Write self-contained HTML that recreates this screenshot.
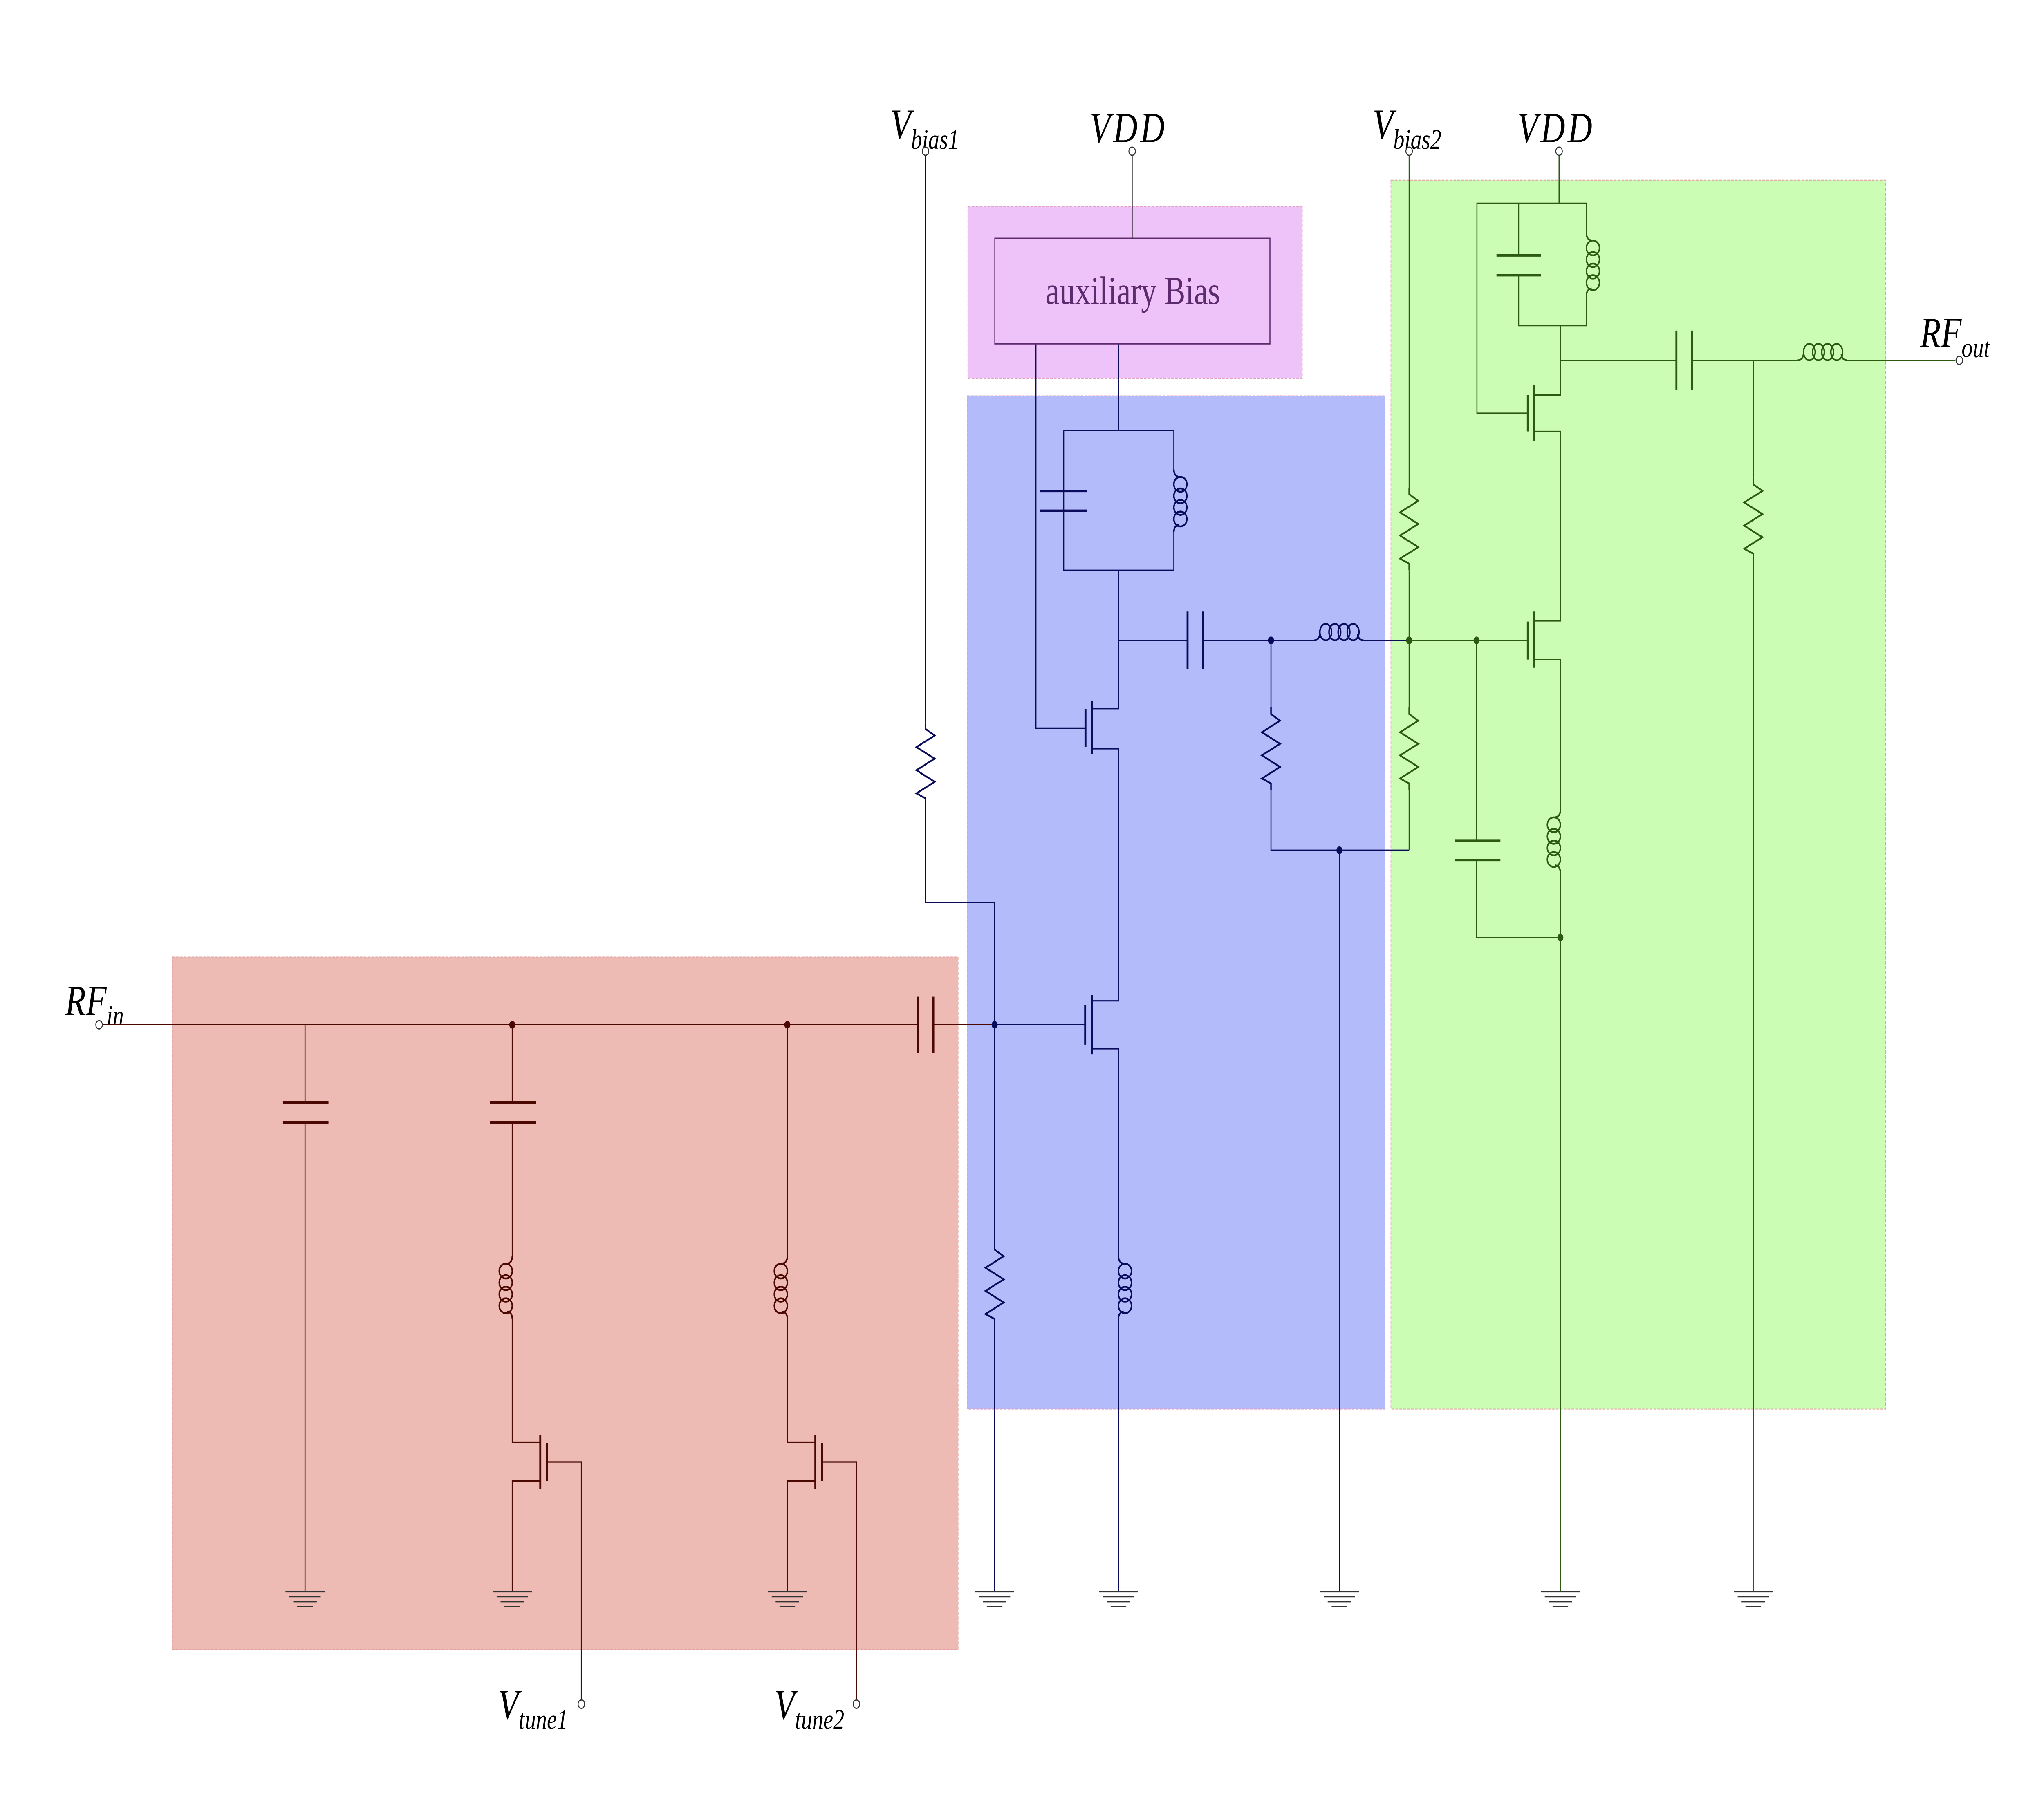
<!DOCTYPE html>
<html><head><meta charset="utf-8"><style>html,body{margin:0;padding:0;background:#fff;width:100%;height:100%;overflow:hidden}svg{display:block;position:absolute;left:0;top:0;width:100vw;height:100vh}</style></head><body>
<svg viewBox="0 0 1568 1089" preserveAspectRatio="none" xmlns="http://www.w3.org/2000/svg">
<defs>
<g id="L" fill="none"><path d="M0,0 Q0,4 4,4.5 M4,33.5 Q0,34 0,38"/><ellipse cx="5" cy="9" rx="5" ry="4.5"/><ellipse cx="5" cy="16" rx="5" ry="4.5"/><ellipse cx="5" cy="23" rx="5" ry="4.5"/><ellipse cx="5" cy="30" rx="5" ry="4.5"/></g>
<path id="R" fill="none" d="M0,0 L0,4 L7,8 L-7,15 L7,22 L-7,29 L7,36 L-7,43 L0,46 L0,50"/>
<g id="G" stroke="#333" stroke-width="0.8"><line x1="-15" y1="0" x2="15" y2="0"/><line x1="-12" y1="3" x2="12" y2="3"/><line x1="-9" y1="6" x2="9" y2="6"/><line x1="-6" y1="9" x2="6" y2="9"/></g>
</defs>
<rect x="132" y="579" width="603" height="419" fill="#edbbb3" stroke="#e0a0a0" stroke-width="0.5" stroke-dasharray="2,1"/>
<rect x="742" y="239.5" width="320.5" height="613" fill="#b3bbfb" stroke="#e0a0c0" stroke-width="0.5" stroke-dasharray="2,1"/>
<rect x="742.5" y="125" width="256.5" height="104" fill="#eec3f9" stroke="#e0a0c0" stroke-width="0.5" stroke-dasharray="2,1"/>
<rect x="1067" y="109" width="379.5" height="743.5" fill="#ccfdb4" stroke="#e0a0a0" stroke-width="0.5" stroke-dasharray="2,1"/>

<g font-family="Liberation Serif, serif" font-style="italic" fill="#000">
<text x="50" y="614" font-size="26">RF<tspan font-size="17" dy="6">in</tspan></text>
<text x="683" y="84" font-size="26">V<tspan font-size="17" dy="6">bias1</tspan></text>
<text x="836" y="86" font-size="26" letter-spacing="2">VDD</text>
<text x="1053" y="84" font-size="26">V<tspan font-size="17" dy="6">bias2</tspan></text>
<text x="1164" y="86" font-size="26" letter-spacing="2">VDD</text>
<text x="1473" y="210" font-size="26">RF<tspan font-size="17" dy="6">out</tspan></text>
<text x="382" y="1040" font-size="26">V<tspan font-size="17" dy="6">tune1</tspan></text>
<text x="594" y="1040" font-size="26">V<tspan font-size="17" dy="6">tune2</tspan></text>
</g>

<g stroke="#4a0800" stroke-width="0.8" fill="none">
<path d="M79,620 H704 M716,620 H763"/>
<line x1="704" y1="603" x2="704" y2="637" stroke-width="1.5"/><line x1="716" y1="603" x2="716" y2="637" stroke-width="1.5"/>
<path d="M234,620 V667 M234,679 V963"/>
<line x1="217" y1="667" x2="252" y2="667" stroke-width="1.5"/><line x1="217" y1="679" x2="252" y2="679" stroke-width="1.5"/>
<path d="M393,620 V667 M393,679 V760 M393,798 V872.5 H414 M414,896 H393 V963"/>
<line x1="376" y1="667" x2="411" y2="667" stroke-width="1.5"/><line x1="376" y1="679" x2="411" y2="679" stroke-width="1.5"/>
<g transform="translate(393,760) scale(-1,1)"><use href="#L" stroke-width="1.1"/></g>
<line x1="414.5" y1="868" x2="414.5" y2="901" stroke-width="1.5"/><line x1="419.5" y1="873" x2="419.5" y2="896" stroke-width="1.5"/>
<path d="M419,884.5 H446 V1028"/>
<path d="M604,620 V760 M604,798 V872.5 H625 M625,896 H604 V963"/>
<g transform="translate(604,760) scale(-1,1)"><use href="#L" stroke-width="1.1"/></g>
<line x1="625.5" y1="868" x2="625.5" y2="901" stroke-width="1.5"/><line x1="630.5" y1="873" x2="630.5" y2="896" stroke-width="1.5"/>
<path d="M630,884.5 H657 V1028"/>
</g>
<g fill="#4a0800"><circle cx="393" cy="620" r="2.3"/><circle cx="604" cy="620" r="2.3"/></g>
<use href="#G" x="234" y="963"/><use href="#G" x="393" y="963"/><use href="#G" x="604" y="963"/>

<g stroke="#0b0b5c" stroke-width="0.8" fill="none">
<path d="M710,94 V437 M710,487 V546 H763 V752 M763,802 V963"/>
<use href="#R" x="710" y="437" stroke-width="1.1"/>
<use href="#R" x="763" y="752" stroke-width="1.1"/>
<path d="M763,620 H832"/>
<line x1="832.5" y1="608" x2="832.5" y2="632" stroke-width="1.5"/><line x1="837.5" y1="602" x2="837.5" y2="638" stroke-width="1.5"/>
<path d="M837,605.5 H858 V453 H837 M837,428.7 H858 V345 M837,634.5 H858 V760 M858,798 V963"/>
<use href="#L" x="858" y="760" stroke-width="1.1"/>
<line x1="832.7" y1="429" x2="832.7" y2="452" stroke-width="1.5"/><line x1="837.6" y1="424" x2="837.6" y2="456" stroke-width="1.5"/>
<path d="M832,440.5 H794.7 V208 M858,208 V260.4 M816,260.4 H900.5 V284 M900.5,322 V345 H816 V260.4"/>
<line x1="798" y1="297" x2="834" y2="297" stroke-width="1.5"/><line x1="798" y1="309" x2="834" y2="309" stroke-width="1.5"/>
<use href="#L" x="900.5" y="284" stroke-width="1.1"/>
<path d="M858,387.4 H911 M923,387.4 H1008 M1046,387.4 H1081"/>
<line x1="911" y1="370" x2="911" y2="405" stroke-width="1.5"/><line x1="923" y1="370" x2="923" y2="405" stroke-width="1.5"/>
<g transform="translate(1008,387.4) rotate(-90)"><use href="#L" stroke-width="1.1"/></g>
<path d="M975,387.4 V428 M975,478 V514.4 H1081 M1027.5,514.4 V963"/>
<use href="#R" x="975" y="428" stroke-width="1.1"/>
</g>
<g fill="#0b0b5c"><circle cx="763" cy="620" r="2.3"/><circle cx="975" cy="387.4" r="2.3"/><circle cx="1027.5" cy="514.4" r="2.3"/></g>
<use href="#G" x="763" y="963"/><use href="#G" x="858" y="963"/><use href="#G" x="1027.5" y="963"/>

<rect x="763.2" y="144.2" width="211" height="63.8" fill="none" stroke="#5e2a6e" stroke-width="0.8"/>
<line x1="868.5" y1="94" x2="868.5" y2="144.2" stroke="#333" stroke-width="0.8"/>
<text x="869" y="184" font-family="Liberation Serif, serif" font-size="24" fill="#5e2a6e" text-anchor="middle">auxiliary Bias</text>

<g stroke="#2c5a10" stroke-width="0.8" fill="none">
<path d="M1081,94 V295 M1081,345 V428 M1081,478 V514.4"/>
<use href="#R" x="1081" y="295" stroke-width="1.1"/>
<use href="#R" x="1081" y="428" stroke-width="1.1"/>
<path d="M1081,387.4 H1172"/>
<line x1="1172" y1="376" x2="1172" y2="399" stroke-width="1.5"/><line x1="1177" y1="370" x2="1177" y2="404" stroke-width="1.5"/>
<path d="M1177,375.6 H1197 V261 H1177 M1177,239 H1197 V197 M1177,399.2 H1197 V490 M1197,528 V963"/>
<g transform="translate(1197,490) scale(-1,1)"><use href="#L" stroke-width="1.1"/></g>
<path d="M1132.7,387.4 V508.5 M1132.7,520.3 V567.2 H1197"/>
<line x1="1116" y1="508.5" x2="1151" y2="508.5" stroke-width="1.5"/><line x1="1116" y1="520.3" x2="1151" y2="520.3" stroke-width="1.5"/>
<line x1="1172" y1="239" x2="1172" y2="261" stroke-width="1.5"/><line x1="1177" y1="233" x2="1177" y2="267" stroke-width="1.5"/>
<path d="M1172,250 H1133 V123 H1217 V141 M1217,179 V197 H1165 V166 M1165,154 V123 M1196,94 V123"/>
<line x1="1148" y1="154.5" x2="1182" y2="154.5" stroke-width="1.5"/><line x1="1148" y1="166.5" x2="1182" y2="166.5" stroke-width="1.5"/>
<use href="#L" x="1217" y="141" stroke-width="1.1"/>
<path d="M1197,218 H1286 M1298,218 H1379 M1417,218 H1500"/>
<line x1="1286" y1="200" x2="1286" y2="236" stroke-width="1.5"/><line x1="1298" y1="200" x2="1298" y2="236" stroke-width="1.5"/>
<g transform="translate(1379,218) rotate(-90)"><use href="#L" stroke-width="1.1"/></g>
<path d="M1345,218 V289 M1345,339 V963"/>
<use href="#R" x="1345" y="289" stroke-width="1.1"/>
</g>
<g fill="#2c5a10"><circle cx="1081" cy="387.4" r="2.3"/><circle cx="1132.7" cy="387.4" r="2.3"/><circle cx="1197" cy="567.2" r="2.3"/></g>
<use href="#G" x="1197" y="963"/><use href="#G" x="1345" y="963"/>

<g fill="#fff" stroke="#333" stroke-width="0.7">
<circle cx="76" cy="620" r="2.5"/><circle cx="710" cy="91.5" r="2.5"/><circle cx="868.5" cy="91.5" r="2.5"/>
<circle cx="1081" cy="91.5" r="2.5"/><circle cx="1196" cy="91.5" r="2.5"/><circle cx="1503" cy="218" r="2.5"/>
<circle cx="446" cy="1031" r="2.5"/><circle cx="657" cy="1031" r="2.5"/>
</g>
</svg>
</body></html>
